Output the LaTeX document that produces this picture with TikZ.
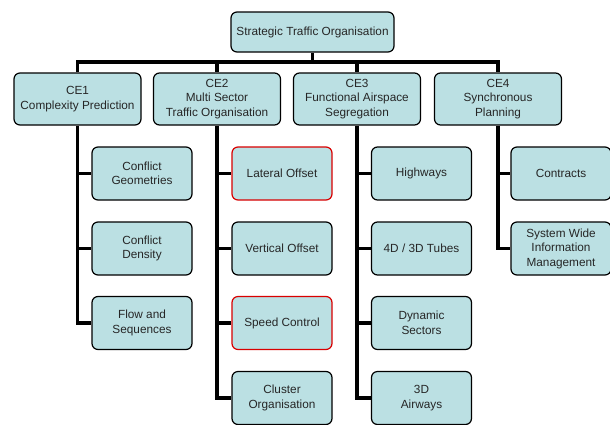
\documentclass[tikz,border=0pt]{standalone}
\usepackage{fontspec}
\setmainfont{Liberation Sans}
\definecolor{boxfill}{RGB}{187,224,227}

\begin{document}
\begin{tikzpicture}[x=1pt,y=-1pt,
    box/.style={rectangle, rounded corners=6pt, draw, line width=1.2pt, fill=boxfill,
      align=center, font=\fontsize{11.8}{14.5}\selectfont, text=black!85, inner sep=2pt},
    ce/.style={box, minimum width=127pt, minimum height=52pt},
    leaf/.style={box, minimum width=100pt, minimum height=53pt},
    hot/.style={draw=red!85!black},
    link/.style={line width=3.8pt}]
      \useasboundingbox (0,0) rectangle (610,424);
      \coordinate (bar) at (0,62);

      \node[box, minimum width=163pt, minimum height=40pt] (top) at (312.5,32) {Strategic Traffic Organisation};

      \node[ce] (ce1) at (77.5,99) {CE1\\Complexity Prediction};
      \node[ce] (ce2) at (217,99) {CE2\\Multi Sector\\Traffic Organisation};
      \node[ce] (ce3) at (357,99) {CE3\\Functional Airspace\\Segregation};
      \node[ce] (ce4) at (498,99) {CE4\\Synchronous\\Planning};

      \node[leaf] (geom) at (142,173.5) {Conflict\\Geometries};
      \node[leaf] (dens) at (142,248.5) {Conflict\\Density};
      \node[leaf] (flow) at (142,323) {Flow and\\Sequences};

      \node[leaf, hot] (lat) at (282,173.5) {Lateral Offset};
      \node[leaf] (vert) at (282,248.5) {Vertical Offset};
      \node[leaf, hot] (speed) at (282,323) {Speed Control};
      \node[leaf] (clust) at (282,398) {Cluster\\Organisation};

      \node[leaf] (hway) at (421.5,173.5) {Highways};
      \node[leaf] (tube) at (421.5,248.5) {4D / 3D Tubes};
      \node[leaf] (dyn) at (421.5,323) {Dynamic\\Sectors};
      \node[leaf] (airw) at (421.5,398) {3D\\Airways};

      \node[leaf] (contr) at (561,173.5) {Contracts};
      \node[leaf] (swim) at (561,248.5) {System Wide\\Information\\Management};

      % top level
      \draw[link] (top.south) -- (top.south |- bar);
      \draw[link] (ce1.north) -- (ce1.north |- bar) -- (ce4.north |- bar) -- (ce4.north);
      \draw[link] (ce2.north |- bar) -- (ce2.north);
      \draw[link] (ce3.north |- bar) -- (ce3.north);

      % CE1
      \draw[link] (ce1.south) |- (flow.west);
      \draw[link] (ce1.south |- geom.west) -- (geom.west);
      \draw[link] (ce1.south |- dens.west) -- (dens.west);

      % CE2
      \draw[link] (ce2.south) |- (clust.west);
      \draw[link] (ce2.south |- lat.west) -- (lat.west);
      \draw[link] (ce2.south |- vert.west) -- (vert.west);
      \draw[link] (ce2.south |- speed.west) -- (speed.west);

      % CE3
      \draw[link] (ce3.south) |- (airw.west);
      \draw[link] (ce3.south |- hway.west) -- (hway.west);
      \draw[link] (ce3.south |- tube.west) -- (tube.west);
      \draw[link] (ce3.south |- dyn.west) -- (dyn.west);

      % CE4
      \draw[link] (ce4.south) |- (swim.west);
      \draw[link] (ce4.south |- contr.west) -- (contr.west);
\end{tikzpicture}
\end{document}
